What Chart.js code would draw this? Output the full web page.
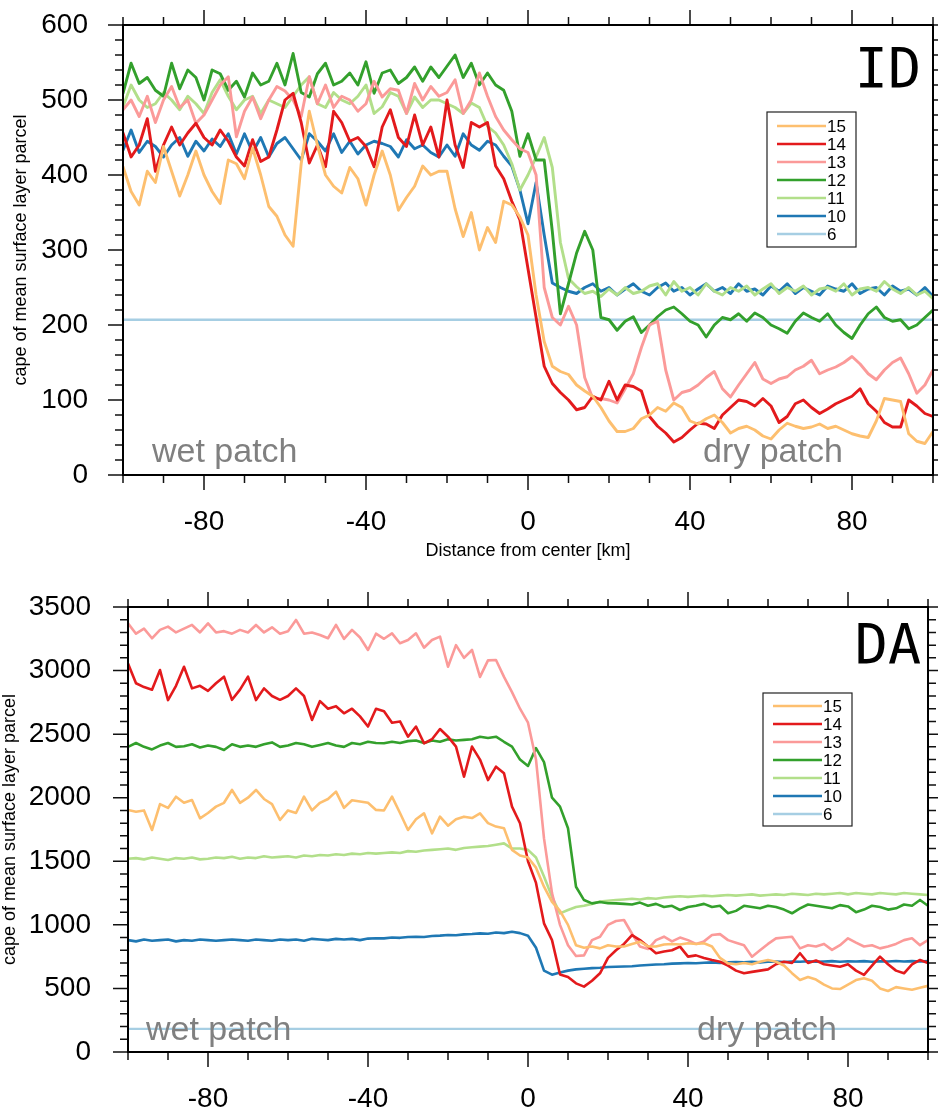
<!DOCTYPE html>
<html>
<head>
<meta charset="utf-8">
<script src="https://cdn.jsdelivr.net/npm/chart.js@4.4.1/dist/chart.umd.min.js"></script>
<style>
  html, body { margin: 0; padding: 0; background: #fff; }
  #wrap { position: relative; width: 938px; height: 1111px; overflow: hidden; }
  canvas { position: absolute; left: 0; }
  #topChart { top: 0; }
  #bottomChart { top: 555px; }
</style>
</head>
<body>
<div id="wrap">
  <canvas id="topChart" width="938" height="560"></canvas>
  <canvas id="bottomChart" width="938" height="556"></canvas>
</div>
<script>
// distance from patch center, km
const xKm = [
  -100,-98,-96,-94,-92,-90,-88,-86,-84,-82,
  -80,-78,-76,-74,-72,-70,-68,-66,-64,-62,
  -60,-58,-56,-54,-52,-50,-48,-46,-44,-42,
  -40,-38,-36,-34,-32,-30,-28,-26,-24,-22,
  -20,-18,-16,-14,-12,-10,-8,-6,-4,-2,
  0,2,4,6,8,10,12,14,16,18,
  20,22,24,26,28,30,32,34,36,38,
  40,42,44,46,48,50,52,54,56,58,
  60,62,64,66,68,70,72,74,76,78,
  80,82,84,86,88,90,92,94,96,98,
  100
];

const seriesLabels = ['15', '14', '13', '12', '11', '10', '6'];
const seriesColors = ['#fdbf6f', '#e31a1c', '#fb9a99', '#33a02c', '#b2df8a', '#1f78b4', '#a6cee3'];

// ---- top panel (ID) ----
const id15 = [
  411,378,360,405,390,438,405,372,400,432,
  400,378,362,420,415,395,436,400,358,345,
  320,305,415,485,440,400,385,376,410,395,
  360,400,432,400,353,370,385,412,400,405,
  405,355,318,350,300,330,310,365,360,344,
  320,240,178,145,138,134,120,112,105,90,
  72,58,58,62,75,80,90,85,96,90,
  72,68,75,80,70,56,62,65,60,52,
  48,60,69,65,62,64,68,62,65,60,
  55,52,50,72,102,100,98,55,45,42,
  58
];
const id14 = [
  456,424,440,475,405,440,464,440,456,469,
  450,440,460,445,424,412,447,418,424,460,
  500,509,470,416,440,411,485,470,445,450,
  438,411,464,487,450,438,480,440,464,424,
  500,440,410,470,464,470,412,395,365,340,
  275,210,145,122,110,100,87,90,105,100,
  125,100,120,118,112,78,65,56,44,50,
  60,69,68,62,80,90,100,98,92,102,
  92,70,78,95,100,90,82,88,95,100,
  105,115,95,85,70,64,64,100,92,82,
  78
];
const id13 = [
  487,500,478,505,470,500,518,490,500,469,
  480,500,520,531,451,485,504,475,500,518,
  512,500,478,531,495,520,490,505,500,485,
  495,525,504,515,513,482,522,500,518,505,
  510,527,482,500,536,505,478,460,447,435,
  430,400,250,210,200,225,200,130,102,102,
  100,96,115,135,170,200,205,140,100,110,
  113,120,130,138,115,104,120,135,150,128,
  122,128,131,140,145,153,135,140,144,150,
  158,148,135,127,140,150,156,135,109,120,
  140
];
const id12 = [
  509,549,522,530,513,505,549,515,540,530,
  500,540,535,513,525,504,536,520,525,549,
  520,562,510,504,535,549,520,525,536,520,
  551,509,536,540,522,530,544,525,544,530,
  545,560,530,549,520,536,520,513,485,425,
  455,420,420,325,215,255,296,325,300,210,
  207,193,205,211,190,200,211,220,224,215,
  205,200,184,200,210,207,215,205,216,210,
  200,195,189,205,216,210,205,215,200,190,
  182,200,215,224,210,205,207,195,200,210,
  220
];
const id11 = [
  491,520,500,490,495,510,500,487,505,495,
  482,510,527,505,487,500,505,482,500,495,
  490,505,520,531,495,490,510,500,495,505,
  520,482,491,510,505,482,504,490,500,500,
  495,490,482,496,490,465,456,440,415,380,
  400,424,450,410,310,262,251,242,245,238,
  248,240,250,242,245,252,255,240,258,245,
  250,240,255,245,240,250,245,252,240,248,
  255,242,250,245,252,240,248,250,245,255,
  240,248,250,245,258,248,242,250,240,245,
  235
];
const id10 = [
  433,460,430,445,438,424,440,450,425,445,
  432,448,438,455,428,455,430,450,424,442,
  450,435,420,455,445,432,455,430,445,428,
  440,445,442,438,424,447,435,440,430,424,
  440,425,455,440,433,445,440,425,412,380,
  335,390,320,256,250,245,242,250,255,245,
  250,240,248,255,245,240,250,256,245,250,
  240,248,255,245,250,242,255,245,248,240,
  252,245,255,242,250,245,240,252,248,245,
  255,242,248,250,240,252,245,248,240,250,
  238
];
const id6Level = 207;

// ---- bottom panel (DA) ----
const da15 = [
  1903,1890,1900,1746,1950,1920,2008,1960,1982,1838,
  1880,1930,1960,2061,1960,2000,2061,1990,1950,1825,
  1900,1880,2008,1900,1960,1990,2048,1920,1980,1970,
  1960,1904,1900,2008,1880,1746,1830,1877,1720,1851,
  1780,1830,1851,1840,1877,1800,1773,1760,1590,1545,
  1530,1450,1300,1180,1110,1000,840,820,830,815,
  840,830,830,850,868,830,830,845,850,845,
  855,850,855,830,740,697,690,700,690,710,
  724,710,680,620,566,590,570,530,500,495,
  530,566,580,560,500,480,510,500,490,505,
  520
];
const da14 = [
  3056,2900,2870,2850,3004,2768,2880,3030,2860,2880,
  2840,2900,2952,2770,2850,2952,2768,2860,2800,2770,
  2800,2860,2800,2612,2760,2700,2720,2664,2700,2640,
  2560,2700,2680,2590,2600,2480,2560,2428,2460,2540,
  2480,2402,2165,2402,2300,2139,2244,2192,1930,1799,
  1500,1330,1012,880,610,590,540,514,560,619,
  740,800,850,920,880,829,777,790,800,829,
  750,760,740,724,710,680,640,619,630,640,
  650,690,710,700,777,700,720,690,680,670,
  690,640,607,680,750,690,640,619,690,724,
  700
];
const da13 = [
  3372,3290,3330,3254,3320,3346,3300,3330,3359,3300,
  3372,3300,3310,3290,3320,3300,3359,3300,3340,3290,
  3310,3398,3290,3300,3280,3254,3359,3250,3320,3260,
  3162,3290,3250,3293,3215,3240,3293,3180,3240,3267,
  3030,3200,3100,3162,2950,3080,3083,2950,2830,2700,
  2590,2300,1680,1250,1000,840,755,760,880,907,
  1000,1030,1038,930,829,810,880,907,870,900,
  880,850,870,920,927,880,860,840,750,800,
  850,894,900,907,815,840,830,850,803,840,
  894,860,830,840,815,830,850,880,894,840,
  881
];
const da12 = [
  2400,2430,2400,2380,2410,2430,2400,2405,2420,2395,
  2410,2400,2375,2420,2400,2410,2400,2420,2435,2400,
  2410,2430,2420,2400,2415,2430,2410,2400,2430,2420,
  2440,2430,2428,2440,2430,2445,2450,2430,2450,2440,
  2460,2450,2455,2460,2480,2470,2480,2440,2402,2300,
  2250,2390,2280,2000,1930,1760,1300,1195,1169,1180,
  1170,1169,1165,1160,1175,1150,1165,1140,1150,1117,
  1140,1150,1165,1140,1150,1091,1110,1150,1140,1130,
  1150,1140,1120,1091,1130,1160,1150,1140,1130,1155,
  1145,1100,1120,1150,1140,1120,1130,1160,1150,1196,
  1150
];
const da11 = [
  1520,1525,1515,1530,1520,1510,1525,1520,1530,1515,
  1520,1530,1525,1535,1520,1530,1525,1540,1530,1535,
  1540,1530,1545,1540,1550,1545,1555,1550,1560,1555,
  1565,1560,1565,1570,1565,1580,1575,1585,1590,1595,
  1600,1590,1605,1610,1615,1620,1630,1641,1600,1600,
  1590,1530,1380,1220,1090,1117,1140,1150,1165,1183,
  1190,1195,1200,1205,1200,1210,1205,1215,1220,1225,
  1220,1225,1230,1225,1230,1235,1230,1235,1240,1230,
  1235,1240,1235,1245,1240,1235,1245,1240,1245,1250,
  1240,1250,1245,1240,1250,1245,1240,1250,1245,1240,
  1235
];
const da10 = [
  880,870,885,875,880,885,870,880,875,885,
  880,875,880,885,880,875,885,880,875,885,
  880,885,875,890,885,880,890,885,890,880,
  892,895,894,900,898,905,907,905,912,915,
  920,918,925,928,933,930,940,935,946,935,
  915,820,640,608,625,640,650,655,660,663,
  668,670,672,675,680,684,688,690,695,697,
  700,698,702,705,700,705,708,705,710,705,
  710,712,708,712,710,714,710,712,715,710,
  714,712,715,710,714,712,716,712,715,712,
  715
];
const da6Level = 182;

// tick marks
const xMajorTicks = [-80, -40, 0, 40, 80];
const xMinorTicks = [-100,-90,-70,-60,-50,-30,-20,-10,10,20,30,50,60,70,90,100];
const idYMajor = [0, 100, 200, 300, 400, 500, 600];
const idYMinor = [20,40,60,80,120,140,160,180,220,240,260,280,320,340,360,380,420,440,460,480,520,540,560,580];
const daYMajor = [0, 500, 1000, 1500, 2000, 2500, 3000, 3500];
const daYMinor = [100,200,300,400,600,700,800,900,1100,1200,1300,1400,1600,1700,1800,1900,
                  2100,2200,2300,2400,2600,2700,2800,2900,3100,3200,3300,3400];

Chart.defaults.font.family = '"Liberation Sans", Arial, Helvetica, sans-serif';
Chart.defaults.color = '#000';

// frame with outward ticks on all four sides, plus labels and legend
const panelDecor = {
  id: 'panelDecor',
  afterDatasetsDraw(chart, args, o) {
    const { ctx, chartArea: a, scales: { x, y } } = chart;
    ctx.save();
    ctx.strokeStyle = '#111';
    ctx.lineWidth = 1.5;
    ctx.beginPath();
    const xt = (v, len) => {
      const px = x.getPixelForValue(v);
      ctx.moveTo(px, a.top); ctx.lineTo(px, a.top - len);
      ctx.moveTo(px, a.bottom); ctx.lineTo(px, a.bottom + len);
    };
    const yt = (v, len) => {
      const py = y.getPixelForValue(v);
      ctx.moveTo(a.left, py); ctx.lineTo(a.left - len, py);
      ctx.moveTo(a.right, py); ctx.lineTo(a.right + len, py);
    };
    xMajorTicks.forEach(v => xt(v, 15));
    xMinorTicks.forEach(v => xt(v, 8));
    o.yMajor.forEach(v => yt(v, 15));
    o.yMinor.forEach(v => yt(v, 8));
    ctx.stroke();
    ctx.lineWidth = 2;
    ctx.strokeStyle = '#000';
    ctx.strokeRect(a.left, a.top, a.right - a.left, a.bottom - a.top);

    // patch labels
    ctx.fillStyle = '#808080';
    ctx.font = '34px "Liberation Sans", Arial, sans-serif';
    ctx.textBaseline = 'alphabetic';
    ctx.textAlign = 'left';
    ctx.fillText('wet patch', o.wetX, o.patchY);
    ctx.fillText('dry patch', o.dryX, o.patchY);

    // experiment tag
    ctx.fillStyle = '#000';
    ctx.font = '55px "DejaVu Sans Mono", monospace';
    ctx.textAlign = 'right';
    ctx.fillText(o.tag, o.tagX, o.tagY);

    // legend
    const L = o.legend;
    ctx.fillStyle = '#fff';
    ctx.fillRect(L.x, L.y, L.w, L.h);
    ctx.lineWidth = 1.2;
    ctx.strokeStyle = '#222';
    ctx.strokeRect(L.x, L.y, L.w, L.h);
    ctx.font = '17px "Liberation Sans", Arial, sans-serif';
    ctx.textAlign = 'left';
    ctx.textBaseline = 'middle';
    chart.data.datasets.forEach((ds, i) => {
      const ry = L.firstRow + i * 18;
      ctx.strokeStyle = ds.borderColor;
      ctx.lineWidth = 2.5;
      ctx.beginPath();
      ctx.moveTo(L.lineX0, ry); ctx.lineTo(L.lineX1, ry);
      ctx.stroke();
      ctx.fillStyle = '#000';
      ctx.fillText(ds.label, L.lineX1 + 1, ry + 1);
    });
    ctx.restore();
  }
};

function makePanel(canvasId, series, level6, p) {
  const datasets = series.map((vals, i) => ({
    label: seriesLabels[i],
    data: xKm.map((xv, j) => ({ x: xv, y: vals[j] })),
    borderColor: seriesColors[i],
    borderWidth: p.lineWidth
  }));
  datasets.push({
    label: seriesLabels[6],
    data: [{ x: xKm[0], y: level6 }, { x: xKm[xKm.length - 1], y: level6 }],
    borderColor: seriesColors[6],
    borderWidth: 2.4
  });

  return new Chart(document.getElementById(canvasId), {
    type: 'line',
    data: { datasets },
    options: {
      responsive: false,
      animation: false,
      events: [],
      layout: { padding: { left: 0, top: p.padTop, right: p.padRight, bottom: 0 } },
      elements: {
        point: { radius: 0 },
        line: { tension: 0, borderJoinStyle: 'round', borderCapStyle: 'round' }
      },
      plugins: {
        legend: { display: false },
        tooltip: { enabled: false },
        panelDecor: p.decor
      },
      scales: {
        x: {
          type: 'linear',
          min: -100, max: 100,
          afterBuildTicks: s => { s.ticks = xMajorTicks.map(v => ({ value: v })); },
          afterFit: s => { s.height = p.xHeight; s.paddingLeft = 0; s.paddingRight = 0; },
          grid: { display: false, drawTicks: false },
          border: { display: false },
          ticks: { font: { size: 28, lineHeight: 1 }, padding: 33, maxRotation: 0, autoSkip: false,
                   callback: v => String(v) },
          title: {
            display: !!p.xTitle,
            text: p.xTitle || '',
            font: { size: 18, lineHeight: 1 },
            padding: { top: 0, bottom: 0 }
          }
        },
        y: {
          type: 'linear',
          min: 0, max: p.yMax,
          afterBuildTicks: s => { s.ticks = p.decor.yMajor.map(v => ({ value: v })); },
          afterFit: s => { s.width = p.yWidth; s.paddingTop = 0; s.paddingBottom = 0; },
          grid: { display: false, drawTicks: false },
          border: { display: false },
          ticks: { font: { size: 28, lineHeight: 1 }, padding: p.yPad, autoSkip: false,
                   callback: v => String(v) },
          title: {
            display: true,
            text: 'cape of mean surface layer parcel',
            font: { size: 18, lineHeight: 1 },
            padding: { top: p.yTitlePad, bottom: 0 }
          }
        }
      }
    },
    plugins: [panelDecor]
  });
}

makePanel('topChart', [id15, id14, id13, id12, id11, id10], id6Level, {
  padTop: 25, padRight: 5, xHeight: 85, yWidth: 123, yPad: 35, yMax: 600,
  yTitlePad: 12, lineWidth: 2.9, xTitle: 'Distance from center [km]',
  decor: {
    yMajor: idYMajor, yMinor: idYMinor,
    tag: 'ID', tagX: 921, tagY: 87,
    wetX: 152, dryX: 703, patchY: 462,
    legend: { x: 767, y: 112, w: 89, h: 135, firstRow: 126, lineX0: 777, lineX1: 826 }
  }
});

makePanel('bottomChart', [da15, da14, da13, da12, da11, da10], da6Level, {
  padTop: 52, padRight: 10, xHeight: 59, yWidth: 128, yPad: 37, yMax: 3500,
  yTitlePad: 1, lineWidth: 2.6, xTitle: null,
  decor: {
    yMajor: daYMajor, yMinor: daYMinor,
    tag: 'DA', tagX: 921, tagY: 108,
    wetX: 146, dryX: 697, patchY: 485,
    legend: { x: 763, y: 138, w: 89, h: 133, firstRow: 151, lineX0: 773, lineX1: 822 }
  }
});
</script>
</body>
</html>
